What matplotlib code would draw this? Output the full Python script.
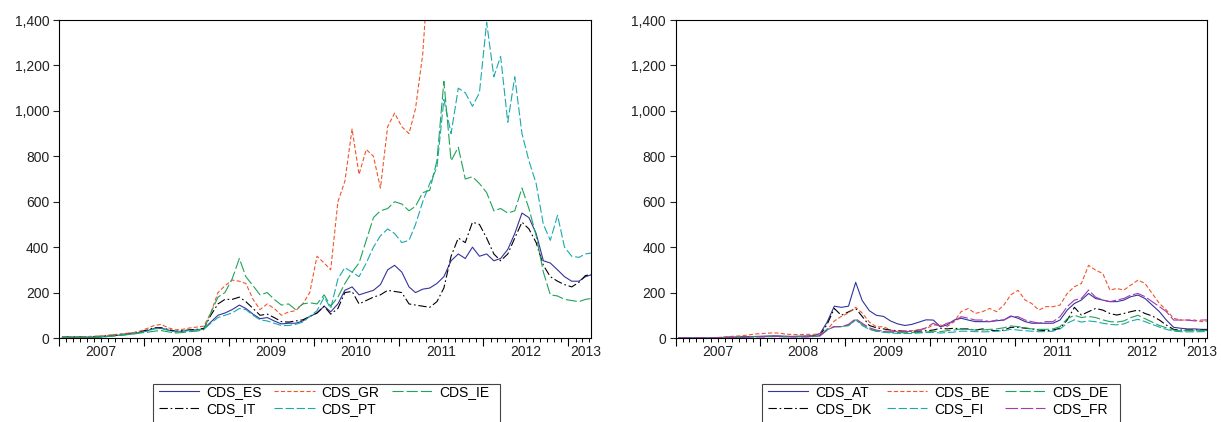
import numpy as np
import pandas as pd
import matplotlib
matplotlib.use("Agg")
import matplotlib.pyplot as plt
import matplotlib.dates as mdates
import matplotlib.ticker as mtick
from matplotlib.patches import Rectangle

plt.rcParams['font.family'] = ['Liberation Sans', 'DejaVu Sans']
plt.rcParams['lines.scale_dashes'] = False

# monthly readings (mid-month), Jan 2007 .. Apr 2013
datas = pd.date_range('2007-01-01', periods=76, freq='MS') + pd.Timedelta(days=14)
anos = list(range(2007, 2014))

# ---- periferia ----
cds_es = [3, 3, 3, 3, 3, 4, 6, 9, 12, 15, 19, 24,
          32, 42, 44, 35, 28, 30, 34, 36, 40, 70, 100, 110,
          125, 145, 130, 105, 85, 90, 75, 62, 65, 65, 75, 95,
          110, 140, 115, 150, 210, 225, 190, 200, 210, 235, 300, 320,
          290, 225, 200, 215, 220, 240, 270, 340, 370, 350, 400, 360,
          370, 340, 350, 390, 460, 550, 530, 460, 340, 330, 300, 270,
          250, 250, 270, 280]
cds_it = [5, 5, 5, 5, 6, 7, 9, 12, 15, 18, 22, 28,
          35, 45, 45, 38, 30, 32, 36, 38, 42, 100, 150, 170,
          170, 180, 160, 130, 100, 105, 90, 72, 70, 75, 80, 95,
          110, 140, 105, 130, 200, 205, 150, 165, 180, 190, 210, 205,
          200, 150, 145, 140, 135, 160, 220, 360, 440, 420, 510, 500,
          440, 370, 340, 370, 440, 510, 480, 420, 320, 270, 250, 235,
          225, 245, 275, 280]
cds_gr = [6, 6, 6, 6, 7, 8, 10, 14, 17, 20, 24, 30,
          42, 55, 60, 45, 36, 38, 44, 48, 52, 110, 200, 230,
          255, 250, 240, 170, 125, 150, 130, 100, 115, 120, 150, 200,
          360, 330, 300, 600, 690, 920, 720, 830, 800, 660, 930, 990,
          930, 900, 1010, 1250, 1700, 2100] + [np.nan] * 22
cds_pt = [4, 4, 4, 4, 4, 5, 6, 9, 12, 15, 19, 24,
          30, 40, 42, 34, 27, 29, 33, 35, 38, 65, 90, 100,
          110, 130, 125, 100, 80, 75, 65, 55, 55, 60, 70, 95,
          120, 180, 130, 260, 310, 290, 270, 330, 400, 450, 480, 460,
          420, 430, 500, 600, 680, 750, 1050, 900, 1100, 1080, 1020, 1080,
          1390, 1150, 1240, 950, 1150, 900, 780, 680, 500, 430, 540, 400,
          360, 355, 370, 375]
cds_ie = [2, 2, 2, 2, 2, 3, 5, 8, 11, 14, 17, 22,
          25, 30, 33, 27, 22, 24, 28, 30, 36, 110, 180, 200,
          260, 350, 270, 230, 190, 200, 170, 145, 150, 125, 150, 155,
          150, 190, 140, 180, 240, 290, 330, 430, 530, 560, 570, 600,
          590, 560, 580, 640, 650, 780, 1130, 780, 840, 700, 710, 680,
          640, 560, 570, 550, 560, 660, 570, 450, 290, 190, 185, 170,
          165, 160, 170, 175]

# ---- nucleo ----
cds_at = [1, 1, 1, 1, 1, 1, 2, 3, 4, 5, 6, 7,
          8, 9, 9, 8, 7, 8, 9, 10, 20, 70, 140, 135,
          140, 245, 165, 120, 100, 95, 75, 62, 55, 60, 70, 80,
          79, 50, 57, 79, 87, 79, 72, 72, 72, 76, 79, 97,
          87, 72, 65, 65, 65, 65, 79, 123, 152, 167, 196, 174,
          167, 160, 160, 167, 182, 189, 174, 145, 116, 79, 47, 43,
          40, 40, 38, 38]
cds_dk = [1, 1, 1, 1, 1, 1, 2, 3, 3, 4, 5, 6,
          6, 7, 7, 6, 6, 6, 6, 7, 12, 60, 130, 100,
          115, 130, 95, 55, 45, 40, 35, 32, 30, 30, 30, 32,
          35, 43, 40, 43, 40, 40, 35, 40, 35, 32, 35, 47,
          47, 43, 40, 35, 32, 35, 43, 79, 135, 101, 116, 130,
          123, 108, 101, 108, 116, 123, 108, 97, 79, 57, 38, 35,
          35, 35, 35, 35]
cds_be = [2, 2, 2, 2, 2, 2, 3, 6, 8, 10, 14, 18,
          20, 22, 22, 18, 15, 15, 16, 16, 18, 35, 75, 95,
          110, 135, 110, 70, 49, 50, 35, 29, 30, 32, 37, 41,
          57, 57, 50, 72, 116, 130, 108, 116, 130, 116, 145, 190,
          210, 167, 152, 123, 138, 138, 145, 196, 226, 240, 320, 299,
          284, 211, 218, 211, 233, 255, 240, 196, 152, 123, 87, 79,
          79, 79, 72, 75]
cds_fi = [1, 1, 1, 1, 1, 1, 1, 2, 2, 3, 4, 5,
          5, 6, 6, 5, 5, 5, 5, 6, 9, 35, 50, 50,
          55, 80, 55, 38, 30, 25, 22, 20, 20, 20, 22, 24,
          25, 22, 24, 26, 30, 30, 28, 27, 28, 30, 32, 38,
          35, 32, 30, 28, 28, 30, 40, 65, 80, 70, 75, 72,
          65, 60, 58, 62, 75, 82, 72, 60, 48, 38, 30, 28,
          27, 27, 28, 28]
cds_de = [1, 1, 1, 1, 1, 1, 2, 3, 3, 4, 5, 6,
          6, 7, 7, 6, 6, 6, 6, 7, 10, 40, 50, 50,
          55, 80, 60, 40, 30, 28, 25, 24, 23, 24, 25, 26,
          30, 28, 32, 35, 40, 38, 35, 35, 38, 40, 45, 53,
          50, 45, 40, 38, 38, 40, 50, 85, 100, 90, 95, 90,
          80, 72, 70, 75, 90, 100, 85, 70, 55, 45, 35, 32,
          32, 32, 33, 33]
cds_fr = [1, 1, 1, 1, 1, 1, 2, 3, 3, 4, 5, 6,
          6, 7, 7, 6, 6, 6, 6, 7, 10, 35, 50, 50,
          60, 85, 65, 45, 35, 30, 30, 28, 28, 30, 35, 45,
          65, 50, 65, 72, 94, 87, 79, 79, 72, 79, 79, 94,
          94, 79, 72, 65, 72, 72, 94, 138, 167, 174, 211, 180,
          167, 160, 167, 174, 189, 196, 182, 160, 138, 116, 79, 79,
          79, 75, 79, 80]

# estilos: (cor, tracejado)
azul = ('#33349c', '-')
laranja = ('#f0562b', (0, (3, 1.6)))
verde = ('#1fa45a', (0, (8, 2.2)))
preto = ('#000000', (0, (6, 2, 1.2, 2)))
turquesa = ('#1aa9ad', (0, (6, 2)))
roxo = ('#a23ab0', (0, (9, 2)))

painel_esq = [('CDS_ES', cds_es, azul), ('CDS_IT', cds_it, preto),
              ('CDS_GR', cds_gr, laranja), ('CDS_PT', cds_pt, turquesa),
              ('CDS_IE', cds_ie, verde)]
painel_dir = [('CDS_AT', cds_at, azul), ('CDS_DK', cds_dk, preto),
              ('CDS_BE', cds_be, laranja), ('CDS_FI', cds_fi, turquesa),
              ('CDS_DE', cds_de, verde), ('CDS_FR', cds_fr, roxo)]

fig = plt.figure(figsize=(12.21, 4.22), dpi=100)
ax1 = fig.add_axes([59 / 1221, 1 - 338 / 422, 532 / 1221, 318 / 422])
ax2 = fig.add_axes([675.5 / 1221, 1 - 338 / 422, 531.5 / 1221, 318 / 422])


def desenhar(ax, series, caixa, col_esp):
    for nome, valores, (cor, estilo) in series:
        ax.plot(datas, valores, color=cor, linestyle=estilo, linewidth=0.8, label=nome)

    ax.set_xlim(pd.Timestamp('2007-01-01'), pd.Timestamp('2013-04-08'))
    ax.set_ylim(0, 1400)
    ax.yaxis.set_major_locator(mtick.MultipleLocator(200))
    ax.yaxis.set_major_formatter(mtick.StrMethodFormatter('{x:,.0f}'))
    ax.xaxis.set_major_locator(mdates.YearLocator())
    ax.xaxis.set_minor_locator(mdates.MonthLocator())
    ax.xaxis.set_major_formatter(mtick.NullFormatter())
    ax.tick_params(axis='y', length=4, width=0.8, pad=3, labelsize=10, colors='#222222')
    ax.tick_params(axis='x', which='major', length=5.5, width=0.8)
    ax.tick_params(axis='x', which='minor', length=3, width=0.7)
    for s in ax.spines.values():
        s.set_linewidth(0.8)

    for ano in anos:
        pos = pd.Timestamp(f'{ano}-07-02') if ano < 2013 else pd.Timestamp('2013-03-15')
        ax.text(pos, -0.044, str(ano), transform=ax.get_xaxis_transform(),
                ha='center', va='center', fontsize=10, color='#222222', clip_on=False)

    # legenda sem moldura; a caixa é desenhada à parte e sai pelo fundo da figura
    esq, dir_ = caixa
    fig.legend(handles=ax.get_lines(), loc='upper left',
               bbox_to_anchor=((esq + 6) / 1221, 1 - 385 / 422), ncol=3,
               fontsize=10, frameon=False, handlelength=2.9,
               handletextpad=0.5, columnspacing=col_esp, labelspacing=0.22,
               borderpad=0, borderaxespad=0)
    fig.patches.append(Rectangle((esq / 1221, -0.05), (dir_ - esq) / 1221,
                                 1 - 384 / 422 + 0.05, transform=fig.transFigure,
                                 fill=False, edgecolor='#444444', linewidth=0.8))


desenhar(ax1, painel_esq, (153, 500), 0.9)
desenhar(ax2, painel_dir, (762, 1120), 1.1)

fig.savefig('out.png', dpi=100)
